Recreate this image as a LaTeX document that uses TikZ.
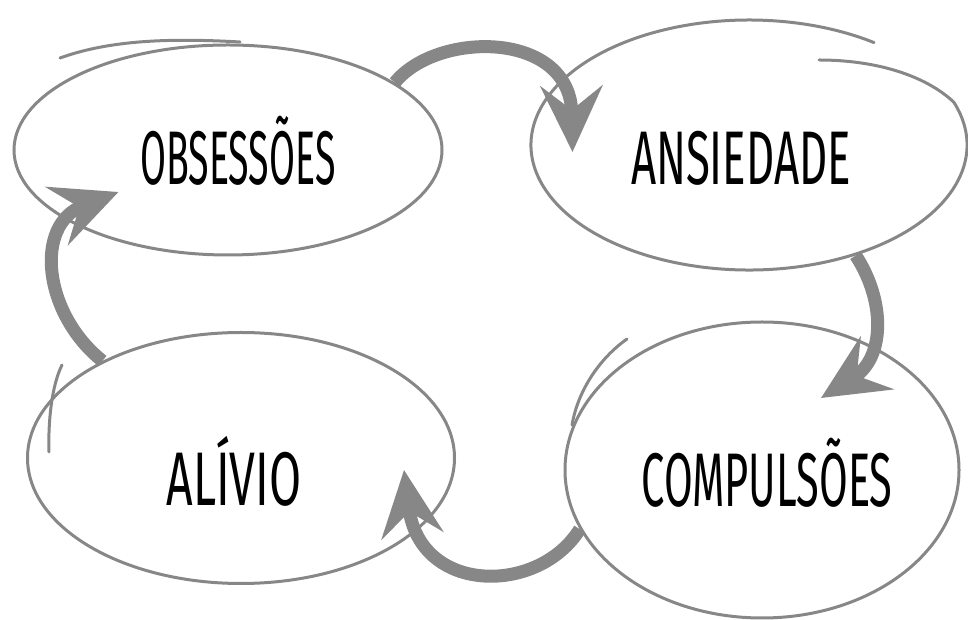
\documentclass[tikz,border=0pt]{standalone}
\usepackage{fontspec}
\newfontfamily\handfont{Fira Sans}
\usetikzlibrary{shapes.geometric, arrows.meta}
\definecolor{pencil}{HTML}{878787}
\newcommand*{\Squeeze}[2]{\resizebox{#1}{\height}{\handfont\fontsize{76}{80}\selectfont #2}}

\begin{document}
\begin{tikzpicture}[x=1pt, y=1pt,
    bubble/.style={ellipse, draw=pencil, line width=3pt, inner sep=0pt},
    word/.style={anchor=base, inner sep=0pt},
    turn/.style={draw=pencil, line width=13pt, -{Stealth[length=66pt, width=62pt, inset=24pt]}},
    sketch/.style={draw=pencil, line width=3pt, line cap=round}]
  \useasboundingbox (0,0) rectangle (968,620);

  \node[bubble, minimum width=428pt, minimum height=210pt] (obs) at (228,470) {};
  \node[bubble, draw=none, minimum width=436pt, minimum height=250pt] (ans) at (749,475) {};
  \node[bubble, minimum width=427pt, minimum height=251pt] (alv) at (241,162) {};
  \node[bubble, minimum width=394pt, minimum height=296pt] (cmp) at (762,150) {};

  \draw[sketch] (60,562) .. controls (110,580) and (170,582) .. (240,578);
  \draw[sketch] (819,560) .. controls (875,560) and (925,545) .. ([shift={(20:218 and 125)}]ans.center)
    arc[start angle=20, end angle=-305, x radius=218, y radius=125];
  \draw[sketch] (62,255) .. controls (52,235) and (48,200) .. (49,168);
  \draw[sketch] (627,281) .. controls (600,262) and (578,230) .. (572,195);

  \draw[turn] (obs.22) .. controls +(42,52) and +(-2,122) .. ([shift={(43pt,-7pt)}]ans.west);
  \draw[turn] (ans.-46) .. controls +(30,-46) and +(64,40) .. ([shift={(59pt,72pt)}]cmp.center);
  \draw[turn] (cmp.198) .. controls +(-41,-66) and +(16,-125) .. ([shift={(-52pt,-12pt)}]alv.east);
  \draw[turn] (alv.145) .. controls +(-59,47) and +(-85,-33) .. ([shift={(106pt,-42pt)}]obs.west);

  \node[word] (obs word) at (238,435) {\Squeeze{195pt}{OBSESSÕES}};
  \node[word] (ans word) at (741,435) {\Squeeze{220pt}{ANSIEDADE}};
  \node[word] (alv word) at (234,114) {\Squeeze{135pt}{ALÍVIO}};
  \node[word] (cmp word) at (767,113) {\Squeeze{251pt}{COMPULSÕES}};
\end{tikzpicture}
\end{document}
